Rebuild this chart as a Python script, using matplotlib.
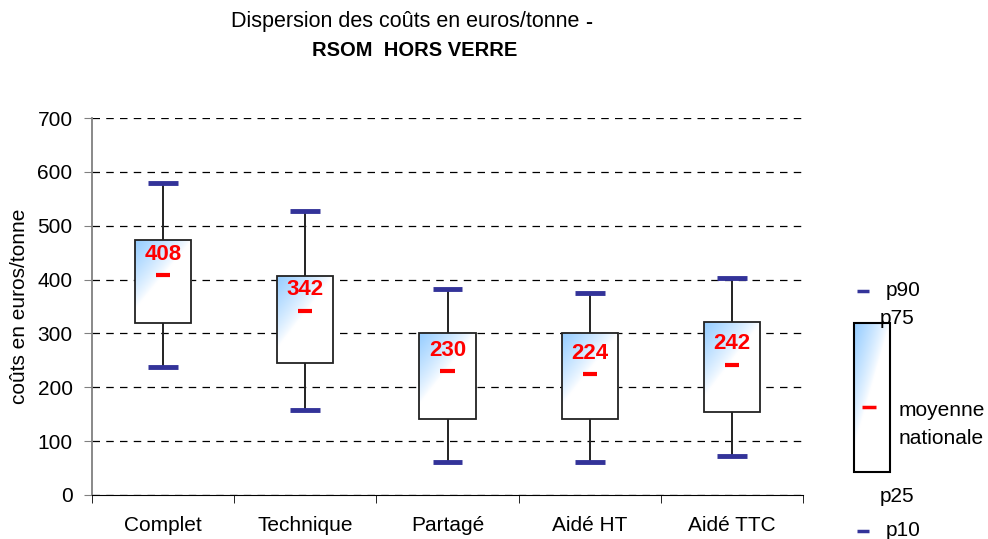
import numpy as np
import matplotlib.pyplot as plt
from matplotlib.patches import Rectangle

plt.rcParams['font.family'] = ['Liberation Sans', 'DejaVu Sans']

# --- data ---
categories = ["Complet", "Technique", "Partagé", "Aidé HT", "Aidé TTC"]
p10 = [238, 158, 61, 61, 72]
p25 = [319, 245, 141, 141, 155]
moyenne = [408, 342, 230, 224, 242]
p75 = [473, 407, 301, 301, 321]
p90 = [579, 527, 383, 375, 403]

W, H = 988, 539
fig = plt.figure(figsize=(W / 100, H / 100), dpi=100)
ax = fig.add_axes([92 / W, (H - 495) / H, (803 - 92) / W, (495 - 118) / H])


def gradient_img():
    """light blue in the top-left corner fading to white"""
    n = 200
    xx, yy = np.meshgrid(np.linspace(0, 1, n), np.linspace(0, 1, n))
    t = np.clip(1 - (1.0 * xx + 1.2 * yy), 0, 1) ** 0.8
    top = np.array([0.58, 0.80, 1.0])
    img = np.ones((n, n, 3)) * (1 - t[..., None]) + top * t[..., None]
    return img


img = gradient_img()
bw = 0.394
cw = 0.21
mw = 0.10
for i, cat in enumerate(categories):
    # whiskers
    ax.plot([i, i], [p75[i], p90[i]], color="#222222", lw=1.4, zorder=3)
    ax.plot([i, i], [p10[i], p25[i]], color="#222222", lw=1.4, zorder=3)
    ax.plot([i - cw / 2, i + cw / 2], [p90[i], p90[i]], color="#333399", lw=3.5, zorder=4,
            solid_capstyle="butt")
    ax.plot([i - cw / 2, i + cw / 2], [p10[i], p10[i]], color="#333399", lw=3.5, zorder=4,
            solid_capstyle="butt")
    # box with gradient
    rect = Rectangle((i - bw / 2, p25[i]), bw, p75[i] - p25[i], facecolor="none",
                     edgecolor="#222222", lw=1.3, zorder=5)
    ax.add_patch(rect)
    im = ax.imshow(img, extent=(i - bw / 2, i + bw / 2, p25[i], p75[i]), origin="upper",
                   aspect="auto", zorder=3.5, interpolation="bilinear")
    im.set_clip_path(rect)
    # mean
    ax.plot([i - mw / 2, i + mw / 2], [moyenne[i], moyenne[i]], color="red", lw=3, zorder=6,
            solid_capstyle="butt")
    ax.annotate(str(moyenne[i]), (i, moyenne[i]), xytext=(0, 15), textcoords="offset points",
                ha="center", va="center", color="red", fontsize=16, fontweight="bold", zorder=7)

ax.set_xlim(-0.5, len(categories) - 0.5)
ax.set_ylim(0, 700)
ax.set_yticks(range(0, 701, 100))
ax.yaxis.grid(True, color="black", linestyle=(0, (6, 5)), lw=0.9)
ax.set_axisbelow(True)
ax.set_xticks(range(len(categories)))
ax.set_xticklabels(categories, fontsize=15)
ax.set_xticks(np.arange(-0.5, len(categories), 1), minor=True)
ax.tick_params(axis="x", which="major", length=0, pad=15)
ax.tick_params(axis="x", which="minor", length=6, direction="out", color="black")
ax.tick_params(axis="y", labelsize=15, length=6, color="#808080", pad=8)
for s in ["top", "right"]:
    ax.spines[s].set_visible(False)
ax.spines["left"].set_color("#808080")
ax.spines["left"].set_linewidth(1.3)
ax.spines["bottom"].set_color("black")
ax.set_ylabel("coûts en euros/tonne", fontsize=15, labelpad=6)

t1 = fig.text(408 / W, 1 - 22 / H, "Dispersion des coûts en euros/tonne ", ha="center",
              va="center", fontsize=15.5)
ax.annotate("-", xy=(1, 0.5), xycoords=t1, ha="left", va="center", fontsize=15,
            fontweight="bold", annotation_clip=False)
fig.text(415 / W, 1 - 51 / H, "RSOM  HORS VERRE", ha="center", va="center", fontsize=14.5,
         fontweight="bold")

# --- legend drawn in pixel coordinates ---
lg = fig.add_axes([0, 0, 1, 1], zorder=10)
lg.set_xlim(0, W)
lg.set_ylim(H, 0)
lg.axis("off")
lg.plot([857, 869], [291, 291], color="#333399", lw=2.5, solid_capstyle="butt")
lg.plot([857, 869], [531, 531], color="#333399", lw=2.5, solid_capstyle="butt")
lrect = Rectangle((854, 323), 36, 149, facecolor="none", edgecolor="black", lw=1.5, zorder=3)
lg.add_patch(lrect)
lim = lg.imshow(img, extent=(854, 890, 472, 323), origin="upper", aspect="auto", zorder=2,
                interpolation="bilinear")
lim.set_clip_path(lrect)
lg.plot([862, 876], [407, 407], color="red", lw=2.5, solid_capstyle="butt", zorder=4)
lg.text(886, 291, "p90", fontsize=15, va="center")
lg.text(880, 318, "p75", fontsize=15, va="center")
lg.text(899, 410, "moyenne", fontsize=15, va="center")
lg.text(899, 438, "nationale", fontsize=15, va="center")
lg.text(880, 497, "p25", fontsize=15, va="center")
lg.text(886, 531, "p10", fontsize=15, va="center")

fig.savefig("out.png", dpi=100)
